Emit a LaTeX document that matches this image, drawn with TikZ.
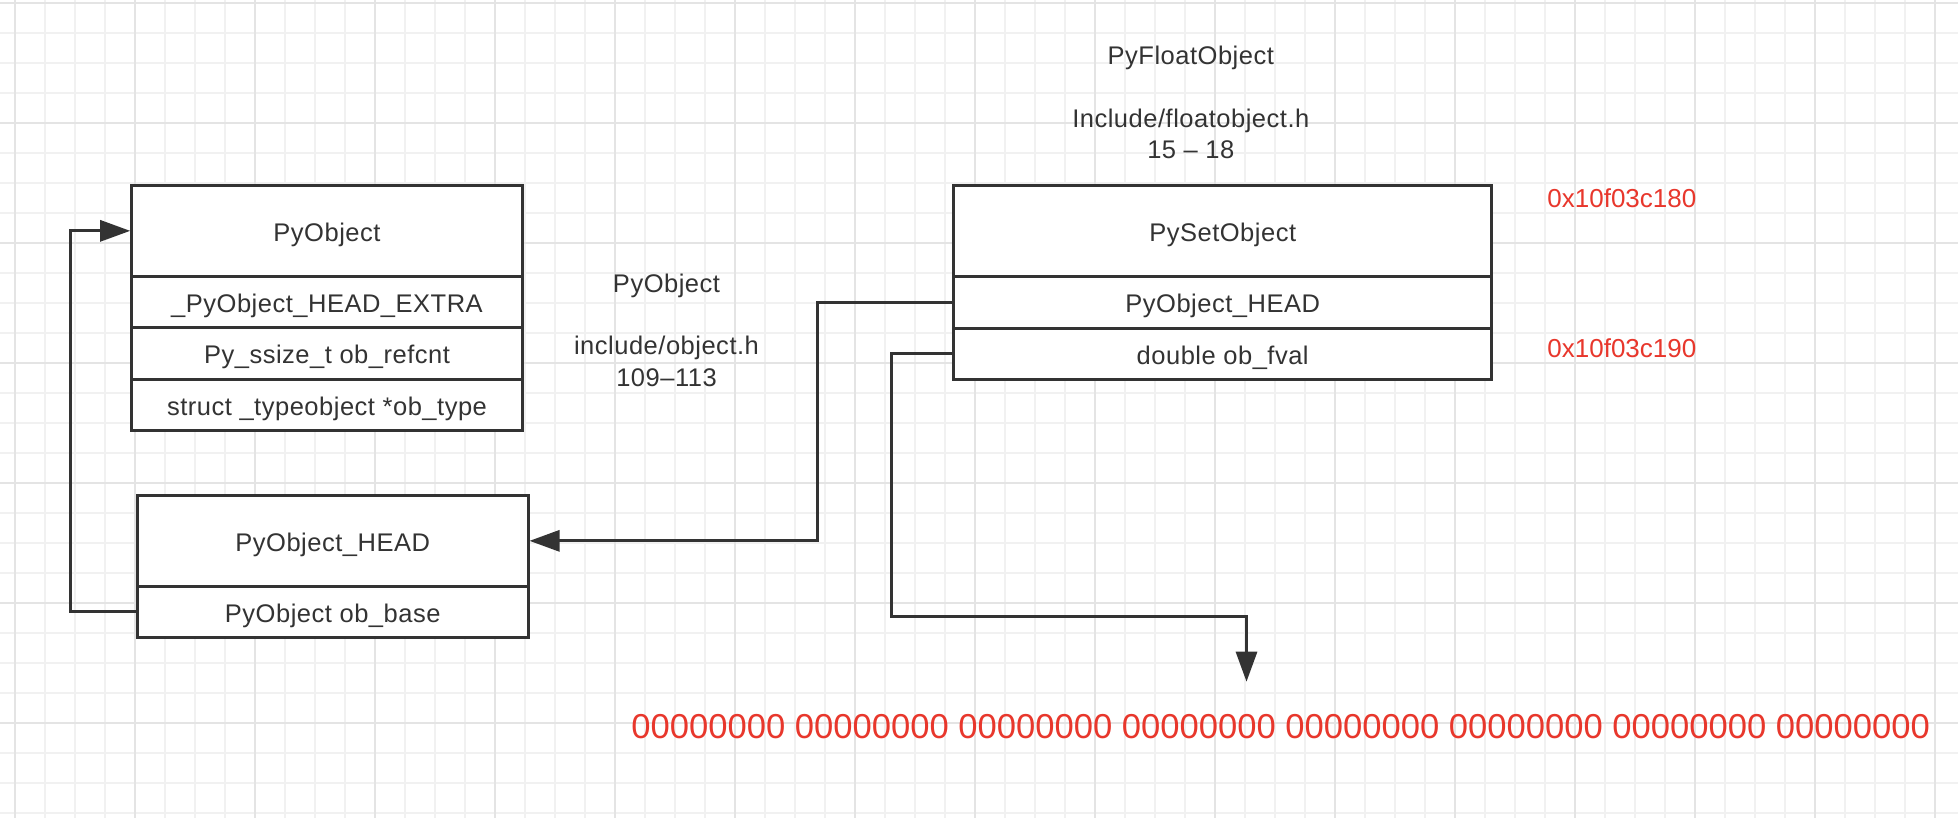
\documentclass[tikz,border=0pt]{standalone}
\usepackage{fontspec}
\setmainfont{Liberation Sans}
\newfontfamily\cellfont[LetterSpace=2]{Liberation Sans}
\usetikzlibrary{arrows.meta}
\definecolor{linec}{HTML}{333333}
\definecolor{textc}{HTML}{333333}
\definecolor{redc}{HTML}{E8372C}
\definecolor{gridminor}{HTML}{F1F1F1}
\definecolor{gridmajor}{HTML}{E4E4E4}
\begin{document}
\begin{tikzpicture}[x=0.5pt,y=-0.5pt,
  cell/.style={draw=linec, line width=1.5pt, fill=white, inner sep=0pt, text=textc, font=\cellfont\fontsize{12.75}{15}\selectfont, text height=10.5pt, text depth=0pt, anchor=center},
  conn/.style={draw=linec, line width=1.5pt},
  arr/.style={conn, -{Triangle[length=15pt,width=10.5pt]}},
  lbl/.style={text=textc, font=\cellfont\fontsize{12.75}{15.7}\selectfont, align=center, inner sep=0pt},
  redlbl/.style={text=redc, inner sep=0pt, anchor=west},
  gminor/.style={draw=gridminor, line width=0.8pt},
  gmajor/.style={draw=gridmajor, line width=1pt}
]
\useasboundingbox (0,0) rectangle (1958,818);
\fill[white] (0,0) rectangle (1958,818);
% grid
\foreach \i in {0,...,64} \draw[gminor] ({15+30*\i},0) -- ({15+30*\i},818);
\foreach \i in {0,...,27} \draw[gminor] (0,{3+30*\i}) -- (1958,{3+30*\i});
\foreach \i in {0,...,16} \draw[gmajor] ({15+120*\i},0) -- ({15+120*\i},818);
\foreach \i in {0,...,6} \draw[gmajor] (0,{3+120*\i}) -- (1958,{3+120*\i});

% PyObject struct
\node[cell, minimum width=195.3pt, minimum height=45.15pt] (pyobj) at (327,230.85) {PyObject};
\node[cell, minimum width=195.3pt, minimum height=25.65pt] (extra) at (327,301.65) {\_PyObject\_HEAD\_EXTRA};
\node[cell, minimum width=195.3pt, minimum height=26pt] (refcnt) at (327,353.3) {Py\_ssize\_t ob\_refcnt};
\node[cell, minimum width=195.3pt, minimum height=25.35pt] (obtype) at (327,404.65) {struct \_typeobject *ob\_type};

% PyObject_HEAD
\node[cell, minimum width=195.25pt, minimum height=45.15pt] (lhead) at (332.75,540.85) {PyObject\_HEAD};
\node[cell, minimum width=195.25pt, minimum height=25.85pt] (lbase) at (332.75,611.85) {PyObject ob\_base};

% PySetObject
\node[cell, minimum width=269.1pt, minimum height=45.15pt] (sethdr) at (1222.7,230.85) {PySetObject};
\node[cell, minimum width=269.1pt, minimum height=26pt] (sethead) at (1222.7,302) {PyObject\_HEAD};
\node[cell, minimum width=269.1pt, minimum height=25.65pt] (fval) at (1222.7,353.65) {double ob\_fval};

% labels
\node[lbl] (floatlbl) at (1190.8,102.5) {PyFloatObject\\[15.7pt]Include/floatobject.h\\15 – 18};
\node[lbl] (objlbl) at (666.5,330) {PyObject\\[15.7pt]include/object.h\\109–113};
\node[redlbl, font=\fontsize{13}{15}\selectfont] (addr1) at (1547,198.3) {0x10f03c180};
\node[redlbl, font=\fontsize{13}{15}\selectfont] (addr2) at (1547,348.3) {0x10f03c190};
\node[redlbl, font=\fontsize{17.3}{20}\selectfont] (bits) at (631,726.7) {00000000 00000000 00000000 00000000 00000000 00000000 00000000 00000000};

% connectors
\draw[arr] (lbase.west) -- ++(-66,0) |- (pyobj.west);
\draw[arr] (sethead.west) -- ++(-134.2,0) |- (lhead.east);
\coordinate (turn) at (1246.5,616.7);
\coordinate (fvend) at (1246.5,681.7);
\draw[arr] (fval.west) -- ++(-60.2,0) |- (turn) -- (fvend);
\end{tikzpicture}
\end{document}
